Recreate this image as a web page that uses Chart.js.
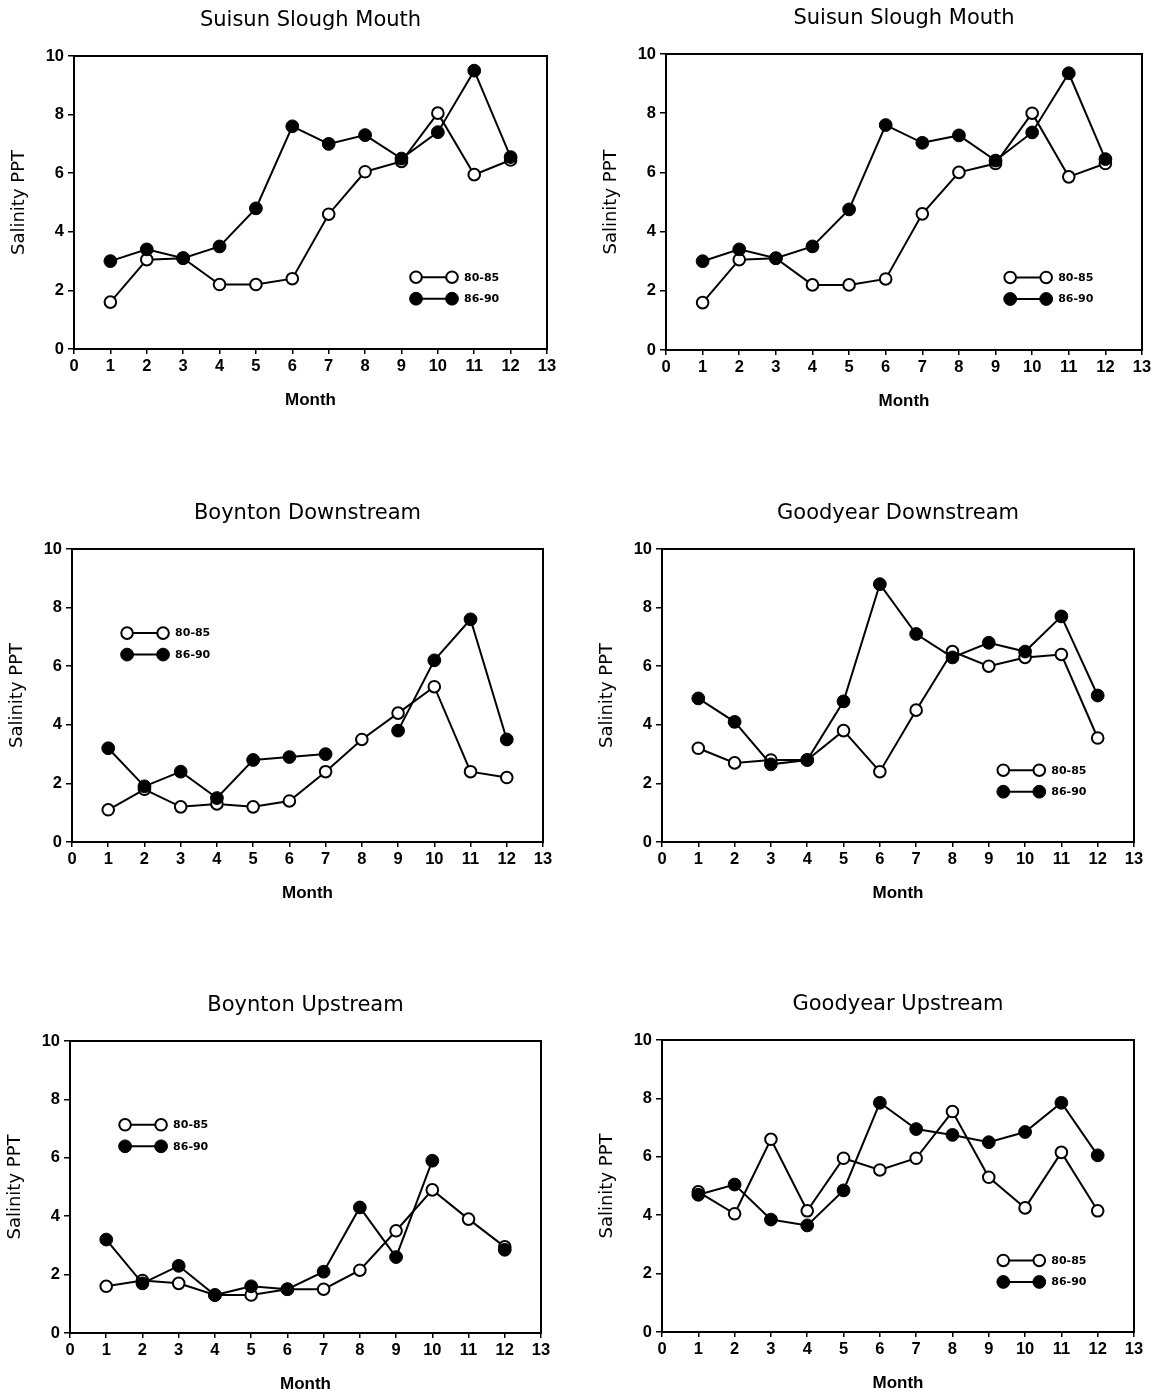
<!DOCTYPE html>
<html>
<head>
<meta charset="utf-8">
<script src="https://cdn.jsdelivr.net/npm/chart.js@4.4.1/dist/chart.umd.min.js"></script>
<style>
  html, body { margin: 0; padding: 0; background: #fff; overflow: hidden; }
  body { width: 1156px; height: 1393px; position: relative; }
  canvas { position: absolute; }
</style>
</head>
<body>
<canvas id="c0"></canvas>
<canvas id="c1"></canvas>
<canvas id="c2"></canvas>
<canvas id="c3"></canvas>
<canvas id="c4"></canvas>
<canvas id="c5"></canvas>
<script>
// ---------------- DATA ----------------
const months = [1, 2, 3, 4, 5, 6, 7, 8, 9, 10, 11, 12];
const seriesLabels = ['80-85', '86-90'];
const xTickMin = 0, xTickMax = 13, xTickStep = 1;
const yTickMin = 0, yTickMax = 10, yTickStep = 2;
const xAxisTitle = 'Month';
const yAxisTitle = 'Salinity PPT';

const panelTitles = [
  'Suisun Slough Mouth', 'Suisun Slough Mouth',
  'Boynton Downstream', 'Goodyear Downstream',
  'Boynton Upstream', 'Goodyear Upstream'
];

const suisunA_8085 = [1.6, 3.05, 3.1, 2.2, 2.2, 2.4, 4.6, 6.05, 6.4, 8.05, 5.95, 6.45];
const suisunA_8690 = [3.0, 3.4, 3.1, 3.5, 4.8, 7.6, 7.0, 7.3, 6.5, 7.4, 9.5, 6.55];

const suisunB_8085 = [1.6, 3.05, 3.1, 2.2, 2.2, 2.4, 4.6, 6.0, 6.3, 8.0, 5.85, 6.3];
const suisunB_8690 = [3.0, 3.4, 3.1, 3.5, 4.75, 7.6, 7.0, 7.25, 6.4, 7.35, 9.35, 6.45];

const boyntonDown_8085 = [1.1, 1.8, 1.2, 1.3, 1.2, 1.4, 2.4, 3.5, 4.4, 5.3, 2.4, 2.2];
const boyntonDown_8690 = [3.2, 1.9, 2.4, 1.5, 2.8, 2.9, 3.0, null, 3.8, 6.2, 7.6, 3.5];

const goodyearDown_8085 = [3.2, 2.7, 2.8, 2.8, 3.8, 2.4, 4.5, 6.5, 6.0, 6.3, 6.4, 3.55];
const goodyearDown_8690 = [4.9, 4.1, 2.65, 2.8, 4.8, 8.8, 7.1, 6.3, 6.8, 6.5, 7.7, 5.0];

const boyntonUp_8085 = [1.6, 1.8, 1.7, 1.3, 1.3, 1.5, 1.5, 2.15, 3.5, 4.9, 3.9, 2.95];
const boyntonUp_8690 = [3.2, 1.7, 2.3, 1.3, 1.6, 1.5, 2.1, 4.3, 2.6, 5.9, null, 2.85];

const goodyearUp_8085 = [4.8, 4.05, 6.6, 4.15, 5.95, 5.55, 5.95, 7.55, 5.3, 4.25, 6.15, 4.15];
const goodyearUp_8690 = [4.7, 5.05, 3.85, 3.65, 4.85, 7.85, 6.95, 6.75, 6.5, 6.85, 7.85, 6.05];

const panelSeries = [
  [suisunA_8085, suisunA_8690],
  [suisunB_8085, suisunB_8690],
  [boyntonDown_8085, boyntonDown_8690],
  [goodyearDown_8085, goodyearDown_8690],
  [boyntonUp_8085, boyntonUp_8690],
  [goodyearUp_8085, goodyearUp_8690]
];

// ---------------- LAYOUT (plot-area boxes, page pixels) ----------------
const plotBoxes = [
  {L: 74,  T: 56,   R: 547,  B: 349},
  {L: 666, T: 54,   R: 1142, B: 350},
  {L: 72,  T: 549,  R: 543,  B: 842},
  {L: 662, T: 549,  R: 1134, B: 842},
  {L: 70,  T: 1041, R: 541,  B: 1333},
  {L: 662, T: 1040, R: 1134, B: 1332}
];
// legend anchors (in axis units) per panel
const legendAnchors = [
  {x: 9.4, y: 2.45}, {x: 9.4, y: 2.45},
  {x: 1.52, y: 7.13}, {x: 9.4, y: 2.45},
  {x: 1.52, y: 7.13}, {x: 9.4, y: 2.45}
];

const Y_AXIS_W = 74, TITLE_H = 56, X_AXIS_H = 62, PAD_R = 15;

Chart.defaults.color = '#000';

const framePlugin = {
  id: 'frame',
  beforeDatasetsDraw(chart) {
    const a = chart.chartArea, ctx = chart.ctx;
    ctx.save();
    ctx.strokeStyle = '#000';
    ctx.lineWidth = 2;
    ctx.strokeRect(a.left, a.top, a.right - a.left, a.bottom - a.top);
    ctx.restore();
  }
};

const insideLegend = {
  id: 'insideLegend',
  afterDatasetsDraw(chart, args, opts) {
    const ctx = chart.ctx, xs = chart.scales.x, ys = chart.scales.y;
    const x1 = xs.getPixelForValue(opts.x);
    const y0 = ys.getPixelForValue(opts.y);
    const x2 = x1 + opts.span;
    chart.data.datasets.forEach((ds, i) => {
      const yy = y0 + i * opts.rowGap;
      ctx.save();
      ctx.strokeStyle = ds.borderColor;
      ctx.lineWidth = ds.borderWidth;
      ctx.beginPath(); ctx.moveTo(x1, yy); ctx.lineTo(x2, yy); ctx.stroke();
      [x1, x2].forEach(px => {
        ctx.beginPath();
        ctx.arc(px, yy, ds.pointRadius, 0, Math.PI * 2);
        ctx.fillStyle = ds.pointBackgroundColor;
        ctx.fill();
        ctx.lineWidth = ds.pointBorderWidth;
        ctx.strokeStyle = ds.pointBorderColor;
        ctx.stroke();
      });
      ctx.fillStyle = '#000';
      ctx.font = 'bold 11px "DejaVu Sans"';
      ctx.textBaseline = 'middle';
      ctx.textAlign = 'left';
      ctx.fillText(ds.label, x2 + opts.textGap, yy + 0.5);
      ctx.restore();
    });
  }
};

function makePanel(idx) {
  const box = plotBoxes[idx];
  const cv = document.getElementById('c' + idx);
  const w = (box.R - box.L) + Y_AXIS_W + PAD_R;
  const h = (box.B - box.T) + TITLE_H + X_AXIS_H;
  cv.width = w; cv.height = h;
  cv.style.width = w + 'px'; cv.style.height = h + 'px';
  cv.style.left = (box.L - Y_AXIS_W) + 'px';
  cv.style.top = (box.T - TITLE_H) + 'px';

  const [open, filled] = panelSeries[idx];
  const toXY = arr => months.map((m, i) => ({x: m, y: arr[i]}));

  new Chart(cv, {
    type: 'line',
    data: {
      datasets: [
        {
          label: seriesLabels[0],
          data: toXY(open),
          borderColor: '#000', borderWidth: 2,
          pointRadius: 5.8, pointHoverRadius: 5.8,
          pointBackgroundColor: '#fff', pointBorderColor: '#000', pointBorderWidth: 2,
          fill: false, tension: 0, spanGaps: false, order: 1
        },
        {
          label: seriesLabels[1],
          data: toXY(filled),
          borderColor: '#000', borderWidth: 2,
          pointRadius: 6.4, pointHoverRadius: 6.4,
          pointBackgroundColor: '#000', pointBorderColor: '#000', pointBorderWidth: 1,
          fill: false, tension: 0, spanGaps: false, order: 0
        }
      ]
    },
    options: {
      responsive: false,
      animation: false,
      events: [],
      layout: { padding: {left: 0, top: 0, right: PAD_R, bottom: 0}, autoPadding: false },
      plugins: {
        legend: { display: false },
        tooltip: { enabled: false },
        title: {
          display: true,
          text: panelTitles[idx],
          fullSize: false,
          color: '#000',
          font: { family: 'DejaVu Sans', size: 21, weight: 'normal', lineHeight: 1.2 },
          padding: { top: 8.4, bottom: 22.4 }
        },
        insideLegend: {
          x: legendAnchors[idx].x, y: legendAnchors[idx].y,
          span: 36, rowGap: 21.5, textGap: 12
        }
      },
      scales: {
        x: {
          type: 'linear',
          min: xTickMin, max: xTickMax,
          afterFit: s => { s.height = X_AXIS_H; },
          ticks: {
            stepSize: xTickStep, autoSkip: false, maxRotation: 0, padding: 3,
            color: '#000',
            font: { family: 'Liberation Sans', size: 16.5, weight: 'bold' }
          },
          grid: { drawOnChartArea: false, drawTicks: true, tickLength: 5, color: '#000', lineWidth: 1.5 },
          border: { display: true, color: '#000', width: 2 },
          title: {
            display: true, text: xAxisTitle, color: '#000',
            font: { family: 'Liberation Sans', size: 17, weight: 'bold', lineHeight: 1.2 },
            padding: { top: 0, bottom: 0 }
          }
        },
        y: {
          type: 'linear',
          min: yTickMin, max: yTickMax,
          afterFit: s => { s.width = Y_AXIS_W; },
          ticks: {
            stepSize: yTickStep, padding: 4,
            color: '#000',
            font: { family: 'Liberation Sans', size: 16.5, weight: 'bold' }
          },
          grid: { drawOnChartArea: false, drawTicks: true, tickLength: 6, color: '#000', lineWidth: 1.5 },
          border: { display: true, color: '#000', width: 2 },
          title: {
            display: true, text: yAxisTitle, color: '#000',
            font: { family: 'DejaVu Sans', size: 18, weight: 'normal', lineHeight: 1.2 },
            padding: { top: 8.2, bottom: 0 }
          }
        }
      }
    },
    plugins: [framePlugin, insideLegend]
  });
}

for (let i = 0; i < 6; i++) makePanel(i);
</script>
</body>
</html>
